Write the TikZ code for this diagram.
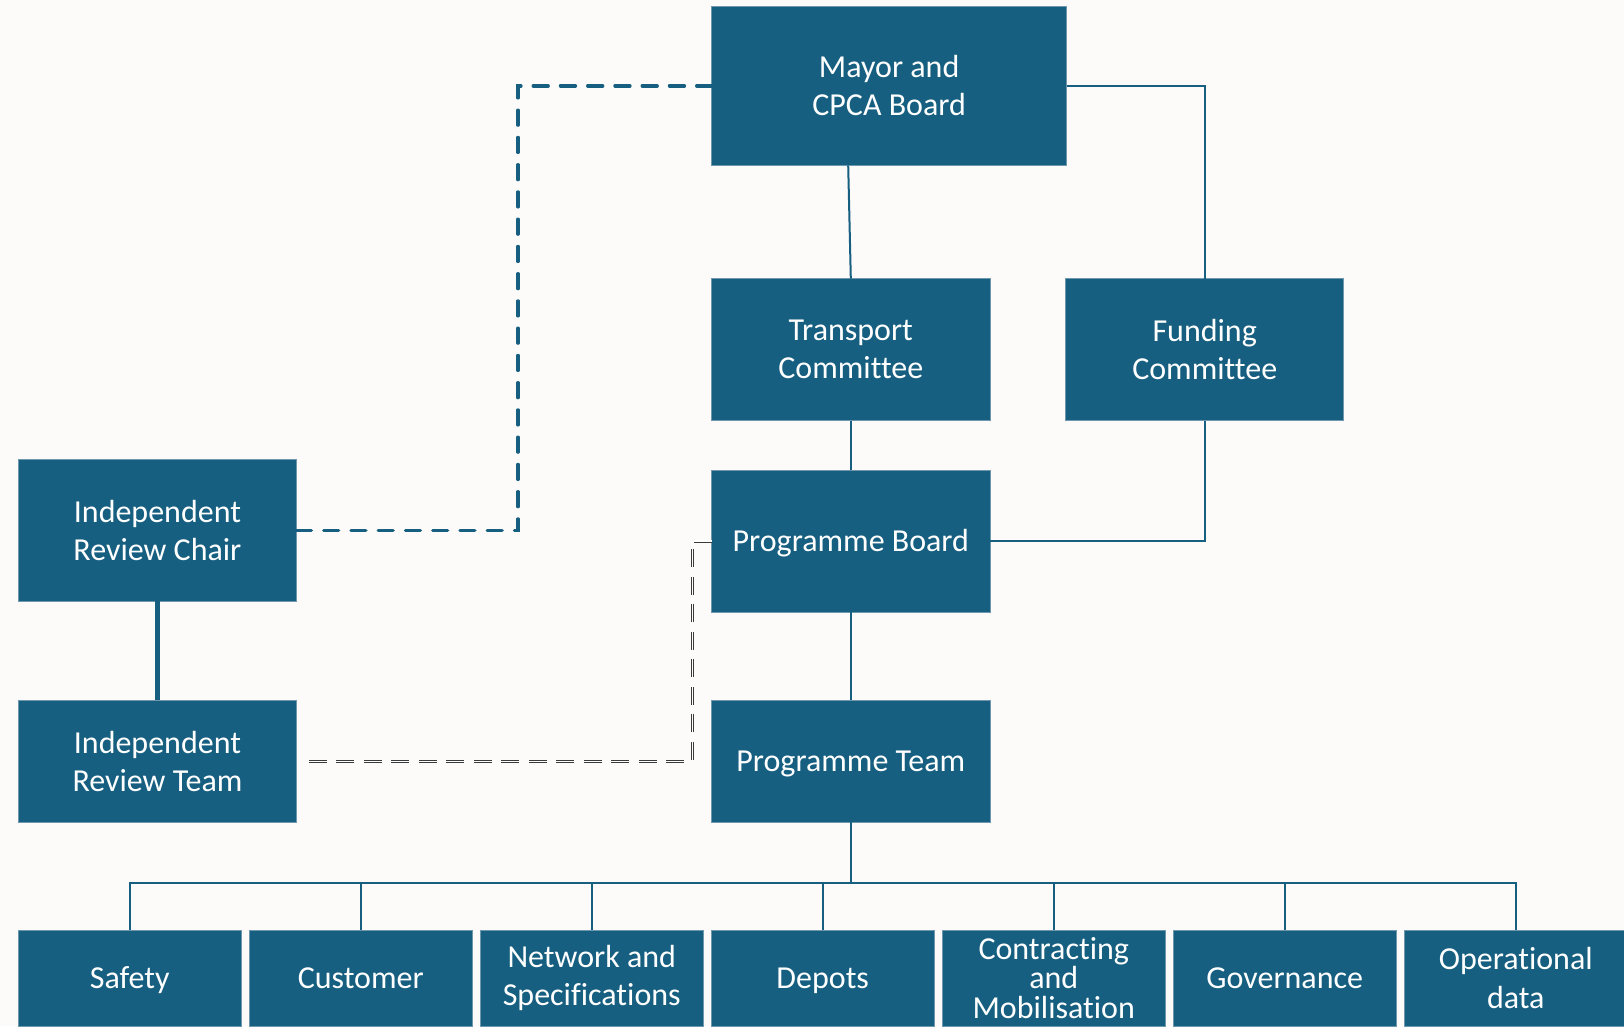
\documentclass[tikz,border=0pt]{standalone}
\usepackage{fontspec}
\setmainfont{Carlito}[Ligatures=NoCommon]
\begin{document}
\definecolor{pagebg}{HTML}{FCFBFA}
\definecolor{boxblue}{HTML}{175F80}
\definecolor{boxedge}{HTML}{6F97AD}
\definecolor{reviewline}{HTML}{3A3A3A}
\begin{tikzpicture}[x=1pt,y=-1pt,
  unit/.style={rectangle, fill=boxblue, draw=boxedge, line width=0.7pt,
    text=white, align=center, inner sep=0pt, outer sep=0pt, anchor=north west,
    font=\fontsize{32}{38.3}\selectfont},
  oneline/.style={text height=29pt, text depth=8pt},
  link/.style={draw=boxblue, line width=2pt},
  dashlink/.style={draw=boxblue, line width=3.3pt, line cap=round,
    dash pattern=on 15pt off 12.25pt},
  reviewlink/.style={draw=reviewline, double=white, double distance=1.4pt,
    line width=0.95pt, dash pattern=on 18pt off 9.5pt}]
  \clip (0,0) rectangle (1624,1026);
  \fill[pagebg] (0,0) rectangle (1624,1026);

  % governance boxes
  \node[unit, minimum width=355.3pt, minimum height=159.3pt] (mayor) at (711.5,6.2) {Mayor and\\CPCA Board};
  \node[unit, minimum width=278.6pt, minimum height=141.9pt] (tc) at (711.5,278.6) {Transport\\Committee};
  \node[unit, minimum width=278pt, minimum height=141.9pt] (fc) at (1065.7,278.6) {Funding\\Committee};
  \node[unit, oneline, minimum width=278.6pt, minimum height=141.9pt] (pb) at (711.5,470.2) {Programme Board};
  \node[unit, oneline, minimum width=278.6pt, minimum height=122.2pt] (pt) at (711.5,700.1) {Programme Team};
  \node[unit, minimum width=277.9pt, minimum height=142pt] (chair) at (18.5,459.3) {Independent\\Review Chair};
  \node[unit, minimum width=277.9pt, minimum height=122.2pt] (team) at (18.5,700.1) {Independent\\Review Team};

  % workstream boxes
  \node[unit, oneline, minimum width=222.5pt, minimum height=96pt] (b1) at (18.5,930) {Safety};
  \node[unit, oneline, minimum width=222.5pt, minimum height=96pt] (b2) at (249.5,930) {Customer};
  \node[unit, minimum width=222.5pt, minimum height=96pt] (b3) at (480.5,930) {Network and\\Specifications};
  \node[unit, oneline, minimum width=222.5pt, minimum height=96pt] (b4) at (711.5,930) {Depots};
  \node[unit, minimum width=222.5pt, minimum height=96pt, font=\fontsize{32}{29.5}\selectfont] (b5) at (942.5,930) {Contracting\\and\\Mobilisation};
  \node[unit, oneline, minimum width=222.5pt, minimum height=96pt] (b6) at (1173.5,930) {Governance};
  \node[unit, minimum width=222.5pt, minimum height=96pt] (b7) at (1404.5,930) {Operational\\data};

  % helper points
  \coordinate (mt) at (848.2,165.5);
  \coordinate (dx) at (518,0);
  \coordinate (rx) at (692.3,0);
  \coordinate (bus) at (0,883.3);

  % reporting lines
  \draw[link] (mt) -- (tc.north);
  \draw[link] (mayor.east) -| (fc.north);
  \draw[link] (tc.south) -- (pb.north);
  \draw[link] (fc.south) |- (pb.east);
  \draw[link] (pb.south) -- (pt.north);
  \draw[link, line width=2.4pt] (pt.south) -- (pt.south |- bus);
  \draw[link] (b1.north) -- (b1.north |- bus) -- (b7.north |- bus) -- (b7.north);
  \foreach \b in {b2,b3,b4,b5,b6}
    \draw[link] (\b.north) -- (\b.north |- bus);
  \draw[link, line width=4.5pt] (chair.south) -- (team.north);

  % independent review links
  \draw[dashlink] (chair.east) -- (dx |- chair.east) -- (dx |- mayor.west) -- (mayor.west);
  \draw[reviewlink, shorten >=9pt] (pb.west) -- (rx |- pb.west) -- (rx |- team.east) -- (team.east);
\end{tikzpicture}
\end{document}
